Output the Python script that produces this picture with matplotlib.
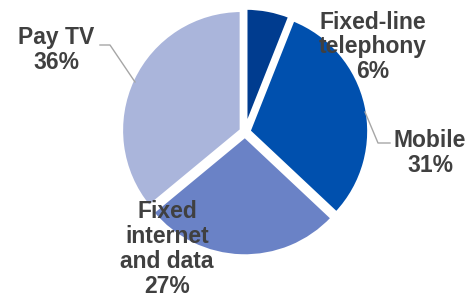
import matplotlib.pyplot as plt

# revenue share by segment
segments = ['Fixed-line\ntelephony', 'Mobile', 'Fixed\ninternet\nand data', 'Pay TV']
shares = [6, 31, 27, 36]
colors = ['#003C8F', '#0050AE', '#6A82C6', '#AAB5DB']

# where the labels sit (pixel coords, y up)
label_xy = [(373, 254), (430, 148), (167, 52), (56, 251)]

fig = plt.figure(figsize=(4.72, 3.01), dpi=100)
ax = fig.add_axes([0, 0, 1, 1])

wedges, _ = ax.pie(shares, colors=colors, startangle=90, counterclock=False,
                   radius=120, center=(245, 169), explode=[4, 4, 4, 4],
                   wedgeprops=dict(edgecolor='white', linewidth=2.5))

ax.set_xlim(0, 472)
ax.set_ylim(0, 301)
ax.set_aspect('equal')
ax.axis('off')

for name, val, (x, y) in zip(segments, shares, label_xy):
    ax.text(x, y, name + '\n' + str(val) + '%', ha='center', va='center',
            fontsize=16.5, fontweight='bold', color='#404040',
            family='Liberation Sans', linespacing=1.1)

# leader lines
ax.plot([100, 110, 135], [256, 256, 219], color='#A6A6A6', lw=1)
ax.plot([365, 378, 390], [189, 158, 158], color='#A6A6A6', lw=1)

fig.savefig('out.png', dpi=100)
